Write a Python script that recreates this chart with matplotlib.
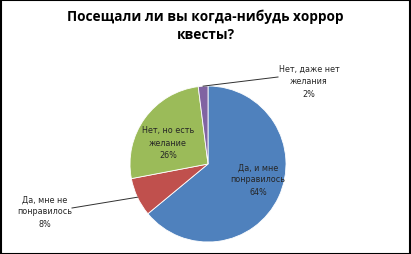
import numpy as np
import matplotlib.pyplot as plt
from matplotlib.patches import Rectangle

title = 'Посещали ли вы когда-нибудь хоррор\nквесты?'
labels = ['Да, и мне\nпонравилось', 'Да, мне не\nпонравилось', 'Нет, но есть\nжелание', 'Нет, даже нет\nжелания']
values = [64, 8, 26, 2]
colors = ['#4F81BD', '#C0504D', '#9BBB59', '#8064A2']

fig = plt.figure(figsize=(4.11, 2.55), dpi=100)
ax = fig.add_axes([0, 0, 1, 1])

# pie centre / radius in pixel units (y up)
cx, cy, r = 208, 90, 78
ax.pie(values, colors=colors, startangle=90, counterclock=False,
       center=(cx, cy), radius=r, frame=True,
       wedgeprops=dict(edgecolor='white', linewidth=0.6))
ax.set_xlim(0, 411)
ax.set_ylim(0, 255)
ax.axis('off')

txt = dict(fontsize=5.8, color='#262626', ha='center', va='center', linespacing=1.45)
pct = [f'{v}%' for v in values]

# labels inside
ax.text(258, 75, labels[0] + '\n' + pct[0], **txt)
ax.text(168, 112, labels[2] + '\n' + pct[2], **txt)
# outside labels with leader lines
ax.text(45, 43, labels[1] + '\n' + pct[1], **txt)
ax.text(309, 173, labels[3] + '\n' + pct[3], **txt)

cum = np.cumsum([0] + values)
tot = sum(values)
def rim(i):
    mid = (cum[i] + cum[i + 1]) / 2 / tot * 360
    a = np.deg2rad(90 - mid)
    return cx + r * np.cos(a), cy + r * np.sin(a)

x1, y1 = rim(1)
ax.plot([72, x1], [46, y1], color='#303030', lw=0.7)
x3, y3 = rim(3)
ax.plot([278, x3], [177, y3], color='#303030', lw=0.7)

fig.text(0.5, 0.9, title, ha='center', va='center', fontsize=9.8,
         fontweight='bold', family='Open Sans', linespacing=1.4)

ax.add_patch(Rectangle((0.5, 0.5), 410, 254, fill=False, edgecolor='black', lw=1.5))

fig.savefig('out.png', dpi=100)
